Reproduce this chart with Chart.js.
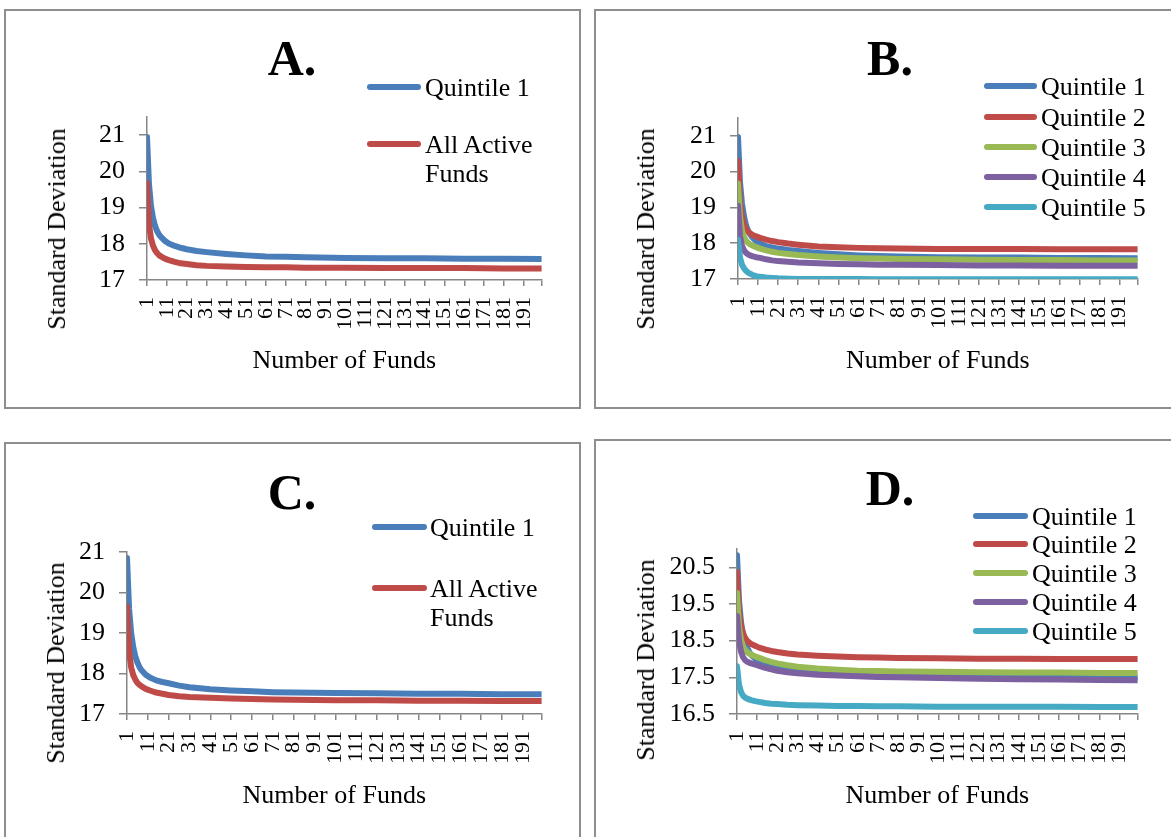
<!DOCTYPE html>
<html><head><meta charset="utf-8">
<script src="https://cdn.jsdelivr.net/npm/chart.js@4/dist/chart.umd.min.js"></script>
<style>
html,body{margin:0;padding:0;background:#fff;width:1171px;height:837px;overflow:hidden;position:relative;font-family:'Liberation Serif','Times New Roman',serif;color:#000;}
.box{position:absolute;border:2px solid #8e8e8e;box-sizing:border-box;}
canvas{position:absolute;}
.ttl{position:absolute;font-weight:bold;font-size:50px;line-height:1;transform:translate(-50%,-50%);white-space:nowrap;}
.leg{position:absolute;font-size:26px;line-height:29px;}
.legline{position:absolute;height:6px;border-radius:3px;}
.ytitle{position:absolute;font-size:26px;line-height:30px;white-space:nowrap;transform:translate(-50%,-50%) rotate(-90deg);}
</style></head><body>
<script>
// ---- data ----
const xValues = [1,2,3,4,5,6,7,8,10,12,15,18,21,26,31,41,51,61,71,81,101,121,141,161,181,200];
const xTickLabels = [1,11,21,31,41,51,61,71,81,91,101,111,121,131,141,151,161,171,181,191];
const yTicksABC = [17,18,19,20,21];
const yTicksD = [16.5,17.5,18.5,19.5,20.5];
const namesAC = ['Quintile 1','All Active Funds'];
const namesBD = ['Quintile 1','Quintile 2','Quintile 3','Quintile 4','Quintile 5'];
const panelTitles = ['A.','B.','C.','D.'];
const xAxisTitle = 'Number of Funds';
const yAxisTitle = 'Standard Deviation';

const A_q1  = [20.95,19.65,19.05,18.72,18.50,18.36,18.26,18.19,18.08,18.01,17.94,17.89,17.85,17.80,17.77,17.72,17.68,17.65,17.64,17.63,17.61,17.60,17.60,17.59,17.59,17.58];
const A_all = [19.67,18.55,18.15,17.95,17.83,17.75,17.69,17.65,17.59,17.55,17.50,17.46,17.44,17.41,17.39,17.37,17.36,17.35,17.35,17.34,17.34,17.33,17.33,17.33,17.32,17.32];

const B_q1 = [20.97,19.70,19.10,18.75,18.50,18.35,18.25,18.17,18.06,17.98,17.92,17.88,17.85,17.81,17.78,17.73,17.69,17.66,17.64,17.63,17.61,17.60,17.60,17.59,17.59,17.58];
const B_q2 = [20.30,19.15,18.75,18.52,18.40,18.33,18.28,18.24,18.19,18.15,18.10,18.06,18.03,17.99,17.96,17.91,17.89,17.87,17.86,17.85,17.84,17.84,17.84,17.83,17.83,17.83];
const B_q3 = [19.67,18.75,18.35,18.17,18.07,18.01,17.97,17.94,17.89,17.85,17.80,17.76,17.73,17.70,17.67,17.63,17.60,17.58,17.57,17.56,17.55,17.54,17.53,17.53,17.52,17.52];
const B_q4 = [19.05,18.20,17.92,17.80,17.73,17.69,17.66,17.64,17.61,17.59,17.55,17.52,17.50,17.48,17.46,17.44,17.42,17.41,17.40,17.40,17.39,17.38,17.38,17.37,17.37,17.37];
const B_q5 = [18.10,17.60,17.40,17.30,17.23,17.18,17.15,17.12,17.08,17.06,17.04,17.03,17.02,17.01,17.00,17.00,17.00,17.00,16.99,16.99,16.99,16.99,16.99,16.99,16.99,16.99];

const C_q1  = [20.85,19.60,19.00,18.65,18.42,18.27,18.16,18.08,17.97,17.90,17.83,17.79,17.76,17.70,17.66,17.61,17.58,17.56,17.54,17.53,17.52,17.51,17.50,17.50,17.49,17.49];
const C_all = [19.65,18.55,18.15,17.96,17.85,17.77,17.72,17.68,17.62,17.58,17.53,17.50,17.47,17.44,17.42,17.40,17.38,17.37,17.36,17.35,17.34,17.34,17.33,17.33,17.32,17.32];

const D_q1 = [20.83,19.60,19.00,18.67,18.45,18.31,18.20,18.12,18.01,17.94,17.86,17.80,17.76,17.72,17.68,17.64,17.61,17.59,17.57,17.56,17.54,17.53,17.52,17.51,17.51,17.50];
const D_q2 = [20.37,19.30,18.90,18.70,18.58,18.50,18.45,18.41,18.36,18.31,18.26,18.22,18.19,18.15,18.12,18.09,18.07,18.05,18.04,18.03,18.02,18.01,18.01,18.00,18.00,18.00];
const D_q3 = [19.80,18.90,18.52,18.35,18.25,18.19,18.15,18.12,18.07,18.03,17.97,17.92,17.88,17.83,17.79,17.74,17.71,17.68,17.67,17.66,17.65,17.64,17.63,17.63,17.62,17.62];
const D_q4 = [19.17,18.50,18.20,18.05,17.97,17.93,17.90,17.88,17.85,17.81,17.76,17.72,17.68,17.64,17.61,17.57,17.55,17.53,17.51,17.50,17.48,17.46,17.45,17.44,17.43,17.42];
const D_q5 = [17.80,17.30,17.10,17.00,16.95,16.92,16.90,16.88,16.85,16.83,16.80,16.78,16.77,16.75,16.74,16.73,16.72,16.72,16.71,16.71,16.70,16.70,16.70,16.70,16.69,16.69];

// ---- styles ----
const colors = ['#4A7EBB','#BE4B48','#98B954','#7D60A0','#46AAC5'];
const FONT = "'Liberation Serif','Times New Roman',serif";
const AXIS_COLOR = '#868686';

// ---- layout (page coordinates) ----
const panels = [
  {title: panelTitles[0], series:[A_q1,A_all], names:namesAC, yticks:yTicksABC, ymin:17, ymax:21.5,
   box:[4,9,577,400], canvas:[5,10,574,397], plot:{l:147,r:550,t:117,b:280},
   titlePos:[292,58], yTitlePos:[57,229], xTitleY:361,
   legend:{x1:367,x2:421,tx:425,rows:[87,144]}},
  {title: panelTitles[1], series:[B_q1,B_q2,B_q3,B_q4,B_q5], names:namesBD, yticks:yTicksABC, ymin:17, ymax:21.5,
   box:[594,9,600,400], canvas:[595,10,580,397], plot:{l:738,r:1155,t:118,b:279},
   titlePos:[890,58], yTitlePos:[646,229], xTitleY:361,
   legend:{x1:984,x2:1037,tx:1041,rows:[86,117,147,177,207]}},
  {title: panelTitles[2], series:[C_q1,C_all], names:namesAC, yticks:yTicksABC, ymin:17, ymax:21,
   box:[4,442,577,420], canvas:[5,443,574,400], plot:{l:127,r:550,t:552,b:714},
   titlePos:[292,492], yTitlePos:[56,663], xTitleY:796,
   legend:{x1:372,x2:427,tx:430,rows:[527,588]}},
  {title: panelTitles[3], series:[D_q1,D_q2,D_q3,D_q4,D_q5], names:namesBD, yticks:yTicksD, ymin:16.5, ymax:21,
   box:[594,439,600,420], canvas:[595,440,580,403], plot:{l:737,r:1154,t:549,b:714},
   titlePos:[890,488], yTitlePos:[646,660], xTitleY:796,
   legend:{x1:973,x2:1028,tx:1032,rows:[516,544,573,602,631]}}
];

function el(tag, cls, css, text){
  const e = document.createElement(tag);
  if (cls) e.className = cls;
  if (css) e.style.cssText = css;
  if (text !== undefined) e.textContent = text;
  document.body.appendChild(e);
  return e;
}

panels.forEach(p => {
  const [bx,by,bw,bh] = p.box;
  el('div','box',`left:${bx}px;top:${by}px;width:${bw}px;height:${bh}px;`);
  const [cx,cy,cw,ch] = p.canvas;
  const cv = el('canvas', null, `left:${cx}px;top:${cy}px;width:${cw}px;height:${ch}px;`);
  cv.width = cw; cv.height = ch;
  const L = p.plot.l - cx, R = p.plot.r - cx, T = p.plot.t - cy, B = p.plot.b - cy;
  const xTitlePad = ch - (p.xTitleY - cy) - 15.6;
  new Chart(cv, {
    type: 'line',
    data: {
      datasets: p.series.map((s,i) => ({
        label: p.names[i],
        data: xValues.map((x,j) => ({x: x, y: s[j]})),
        borderColor: colors[i], backgroundColor: colors[i],
        borderWidth: 6, pointRadius: 0, pointHoverRadius: 0, tension: 0,
        borderCapStyle: 'round', borderJoinStyle: 'round', fill: false,
        order: p.series.length - i
      }))
    },
    options: {
      responsive: false, animation: false, devicePixelRatio: 1,
      layout: {padding: {left: 0, top: T, right: cw - R, bottom: 0}},
      plugins: {legend: {display: false}, title: {display: false}, tooltip: {enabled: false}},
      events: [],
      scales: {
        x: {
          type: 'linear', min: 1, max: 200,
          afterBuildTicks: sc => { sc.ticks = xTickLabels.concat([200]).map(v => ({value: v})); },
          afterFit: sc => { sc.height = ch - B; },
          ticks: {autoSkip: false, minRotation: 90, maxRotation: 90, padding: 11, color: '#000',
                  font: {family: FONT, size: 22},
                  callback: v => xTickLabels.includes(v) ? String(v) : ''},
          grid: {drawOnChartArea: false, tickLength: 6, color: AXIS_COLOR, lineWidth: 1.5},
          border: {color: AXIS_COLOR, width: 1.5},
          title: {display: true, text: xAxisTitle, color: '#000', font: {family: FONT, size: 26},
                  padding: {top: 0, bottom: xTitlePad}}
        },
        y: {
          type: 'linear', min: p.ymin, max: p.ymax,
          afterBuildTicks: sc => { sc.ticks = p.yticks.map(v => ({value: v})); },
          afterFit: sc => { sc.width = L; },
          ticks: {padding: 14, color: '#000', font: {family: FONT, size: 26}, callback: v => String(v)},
          grid: {drawOnChartArea: false, tickLength: 8, color: AXIS_COLOR, lineWidth: 1.5},
          border: {color: AXIS_COLOR, width: 1.5}
        }
      }
    }
  });
  // y axis title (HTML text)
  el('div','ytitle',`left:${p.yTitlePos[0]}px;top:${p.yTitlePos[1]}px;`, yAxisTitle);
  // panel title
  el('div','ttl',`left:${p.titlePos[0]}px;top:${p.titlePos[1]}px;`, p.title);
  // legend
  p.names.forEach((name,i) => {
    const y = p.legend.rows[i];
    el('div','legline',`left:${p.legend.x1}px;top:${y-3}px;width:${p.legend.x2-p.legend.x1}px;background:${colors[i]};`);
    el('div','leg',`left:${p.legend.tx}px;top:${y-14.5}px;max-width:140px;`, name);
  });
});
</script>
</body></html>
